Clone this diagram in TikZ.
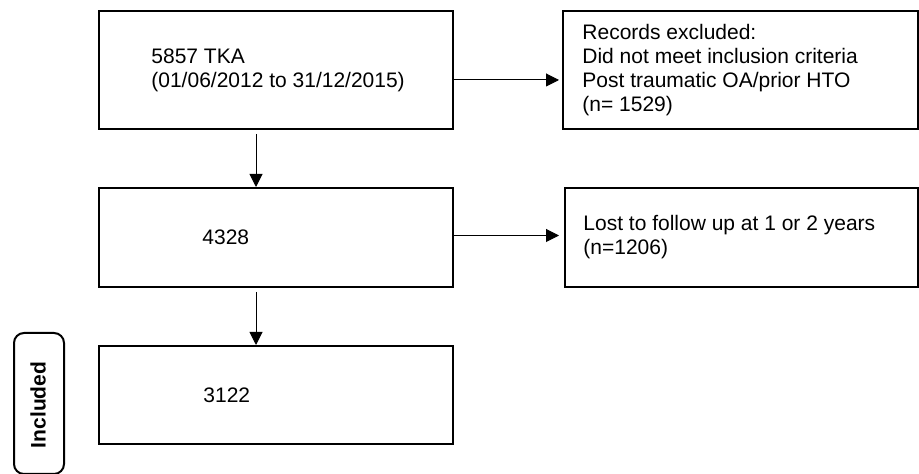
\documentclass[tikz,border=0pt]{standalone}
\usepackage{fontspec}
\setmainfont{Liberation Sans}
\usetikzlibrary{arrows.meta,positioning,calc}

\tikzset{
  box/.style={draw, line width=1pt, inner sep=0pt, minimum width=177pt},
  txt/.style={anchor=west, align=left, inner sep=0pt,
    font=\fontsize{10.5pt}{12pt}\selectfont},
  flow/.style={line width=0.5pt, -{Triangle[length=6.5pt,width=6.5pt]}},
  sidebox/.style={draw, line width=1pt, rounded corners=5pt, inner sep=0pt,
    minimum width=25pt, minimum height=70.5pt}
}

\begin{document}
\begin{tikzpicture}[x=0.5pt, y=-0.5pt]
\useasboundingbox (0,0) rectangle (919,474);

% main column
\node[box, minimum height=59pt]   (total)    at (276, 70)    {};
\node[box, minimum height=49.5pt] (eligible) at (276, 237.5) {};
\node[box, minimum height=49pt]   (included) at (276, 395)   {};

% exclusions
\node[box, minimum width=177.5pt, minimum height=59pt]   (excl) at (740.5, 70)    {};
\node[box, minimum width=176.5pt, minimum height=49.5pt] (lost) at (741.5, 237.5) {};

\node[txt] (ttotal) at ([xshift=26.5pt]total.west)
  {5857 TKA\\(01/06/2012 to 31/12/2015)};
\node[txt] (televig) at ([xshift=52pt]eligible.west) {4328};
\node[txt] (tincl) at ([xshift=52.5pt]included.west) {3122};
\node[txt] (texcl) at ([xshift=10pt]excl.west)
  {Records excluded:\\Did not meet inclusion criteria\\Post traumatic OA/prior HTO\\(n= 1529)};
\node[txt] (tlost) at ([xshift=9.5pt]lost.west)
  {Lost to follow up at 1 or 2 years\\(n=1206)};

\node[sidebox] (side) at (39, 403.5) {};
\node[rotate=90, inner sep=0pt, font=\fontsize{10.5pt}{12pt}\selectfont\bfseries]
  (tside) at (38, 405) {Included};

\foreach \a/\b in {total/eligible, eligible/included}
  \draw[flow, shorten <=2pt] ([xshift=-10pt]\a.south) -- ([xshift=-10pt]\b.north);

\draw[flow, shorten >=1.5pt] ([yshift=-5pt]total.east) -- ([yshift=-5pt]excl.west);
\draw[flow, shorten >=2.5pt] ([yshift=1pt]eligible.east) -- ([yshift=1pt]lost.west);

\end{tikzpicture}
\end{document}
